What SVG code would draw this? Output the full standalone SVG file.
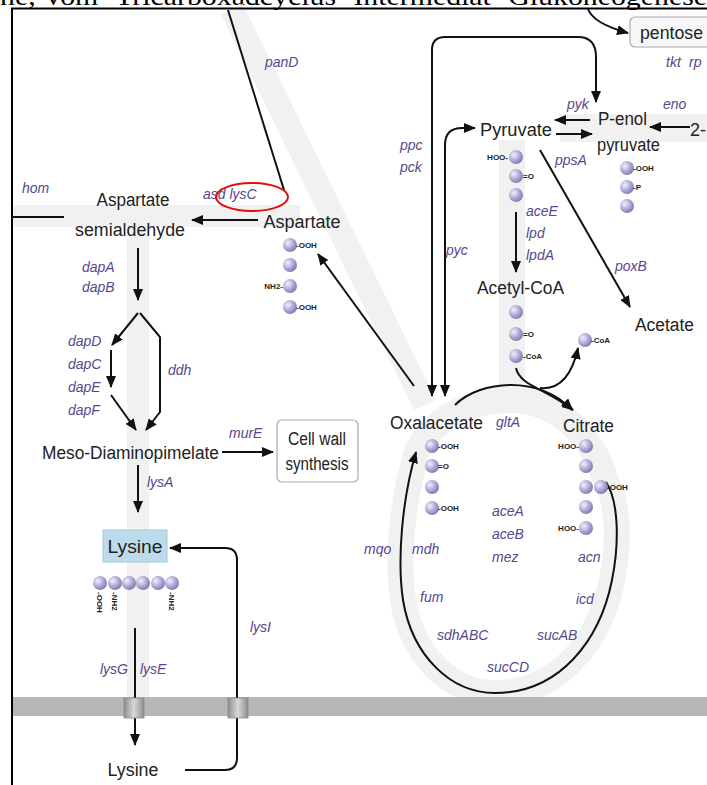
<svg xmlns="http://www.w3.org/2000/svg" width="707" height="785" viewBox="0 0 707 785">
<defs>
<marker id="ah" viewBox="0 0 12 10" refX="11" refY="5" markerWidth="12" markerHeight="10" markerUnits="userSpaceOnUse" orient="auto-start-reverse"><path d="M0,0 L12,5 L0,10 z" fill="#111"/></marker>
<radialGradient id="ball" cx="0.35" cy="0.35" r="0.7"><stop offset="0" stop-color="#f2f0ff"/><stop offset="0.6" stop-color="#aaa4d4"/><stop offset="1" stop-color="#7f78b0"/></radialGradient>
<linearGradient id="tp" x1="0" y1="0" x2="1" y2="0"><stop offset="0" stop-color="#8e8e8e"/><stop offset="0.5" stop-color="#d8d8d8"/><stop offset="1" stop-color="#8e8e8e"/></linearGradient>
</defs>
<style>
.t{font-family:"Liberation Sans",Arial,sans-serif;font-size:18px;fill:#222}
.e{font-family:"Liberation Sans",Arial,sans-serif;font-size:14px;font-style:italic;fill:#55488c}
.m{font-family:"Liberation Sans",Arial,sans-serif;font-size:8px;font-weight:bold;fill:#222}
.b{fill:url(#ball)}
.c{fill:none;stroke:#111;stroke-width:2}
.a{fill:none;stroke:#111;stroke-width:2;marker-end:url(#ah)}
.band{fill:none;stroke:#f1f1f1;stroke-linecap:butt}
</style>
<rect width="707" height="785" fill="#fff"/>
<text x="0" y="5" font-family="'Liberation Serif',serif" font-size="26" fill="#000" textLength="707" lengthAdjust="spacingAndGlyphs">ne,  Vom- Tricarboxadcyclus- Intermediat- Glukoneogenese</text>
<g id="bands">
<line class="band" x1="232" y1="9" x2="425" y2="405" stroke-width="24"/>
<line class="band" x1="12" y1="216" x2="300" y2="216" stroke-width="22"/>
<line class="band" x1="138" y1="228" x2="138" y2="697" stroke-width="22"/>
<line class="band" x1="512" y1="140" x2="512" y2="385" stroke-width="26"/>
<line class="band" x1="560" y1="128" x2="707" y2="128" stroke-width="28"/>
<path class="band" stroke-width="26" d="M606,482 C618,500 620,540 612,580 C600,640 560,693 495,693 C450,693 412,655 403,600 C397,560 402,500 417,452 C430,420 470,400 510,400 C560,400 595,440 606,482 z"/>
</g>
<rect x="12" y="697" width="695" height="19" fill="#b7b7b7"/>
<path d="M12,785 V8.5 H707" fill="none" stroke="#000" stroke-width="2"/>
<g id="connectors">
<line class="c" x1="228" y1="10" x2="284" y2="190" stroke-width="1.5"/>
<line class="a" x1="414" y1="386" x2="318" y2="254"/>
<line class="a" x1="258" y1="220" x2="192" y2="220" stroke-width="2.5"/>
<line class="c" x1="12" y1="217" x2="64" y2="217"/>
<line class="a" x1="138" y1="248" x2="138" y2="300"/>
<path class="a" d="M138,313 L112,345"/>
<path class="a" d="M140,313 L160,337 L160,412 L146,430"/>
<line class="a" x1="111" y1="350" x2="111" y2="387"/>
<line class="a" x1="111" y1="395" x2="136" y2="430"/>
<line class="a" x1="222" y1="452" x2="273" y2="452"/>
<line class="a" x1="138" y1="465" x2="138" y2="512"/>
<line class="a" x1="135" y1="628" x2="135" y2="745" stroke-width="1.5"/>
<path class="a" d="M185,770 H225 Q237,770 237,758 V560 Q237,548 225,548 H170"/>
<path class="a" d="M588,9 C592,20 606,27 628,33"/>
<path class="a" style="marker-start:url(#ah)" d="M432,396 V50 Q432,37 445,37 H578 Q596,37 596,57 V102"/>
<path class="a" style="marker-start:url(#ah)" d="M445,396 V145 Q445,128 462,128 H475"/>
<line class="a" x1="590" y1="120" x2="555" y2="120"/>
<line class="a" x1="556" y1="134" x2="592" y2="134"/>
<line class="a" x1="690" y1="127" x2="650" y2="127"/>
<line class="a" x1="540" y1="150" x2="630" y2="307"/>
<line class="a" x1="516" y1="212" x2="516" y2="272"/>
<path class="a" d="M516,368 C520,386 545,388 573,410"/>
<path class="a" d="M540,388 C560,390 572,375 578,348"/>
<path class="a" d="M455,405 C480,380 540,375 572,410"/>
<path class="a" d="M606,482 C618,500 620,540 612,580 C600,640 560,693 495,693 C450,693 412,655 403,600 C397,560 402,500 416,452"/>
<rect x="124" y="698" width="20" height="20" fill="url(#tp)" stroke="#888" stroke-width="0.8"/>
<rect x="228" y="698" width="20" height="20" fill="url(#tp)" stroke="#888" stroke-width="0.8"/>
</g>
<g id="enzymes">
<text class="e" x="265" y="67">panD</text>
<text class="e" x="22" y="193">hom</text>
<text class="e" x="203" y="199">asd lysC</text>
<text class="e" x="82" y="272">dapA</text>
<text class="e" x="82" y="292">dapB</text>
<text class="e" x="68" y="346">dapD</text>
<text class="e" x="68" y="369">dapC</text>
<text class="e" x="68" y="392">dapE</text>
<text class="e" x="68" y="415">dapF</text>
<text class="e" x="168" y="375">ddh</text>
<text class="e" x="229" y="438">murE</text>
<text class="e" x="147" y="487">lysA</text>
<text class="e" x="250" y="632">lysI</text>
<text class="e" x="100" y="674">lysG</text>
<text class="e" x="140" y="674">lysE</text>
<text class="e" x="666" y="67" font-size="12">tkt</text>
<text class="e" x="689" y="67" font-size="12">rp</text>
<text class="e" x="400" y="150">ppc</text>
<text class="e" x="400" y="172">pck</text>
<text class="e" x="567" y="109">pyk</text>
<text class="e" x="555" y="165">ppsA</text>
<text class="e" x="663" y="109">eno</text>
<text class="e" x="446" y="255">pyc</text>
<text class="e" x="526" y="216">aceE</text>
<text class="e" x="526" y="238">lpd</text>
<text class="e" x="526" y="260">lpdA</text>
<text class="e" x="615" y="271">poxB</text>
<text class="e" x="496" y="427">gltA</text>
<text class="e" x="492" y="516">aceA</text>
<text class="e" x="492" y="539">aceB</text>
<text class="e" x="492" y="562">mez</text>
<text class="e" x="364" y="554">mqo</text>
<text class="e" x="412" y="554">mdh</text>
<text class="e" x="420" y="602">fum</text>
<text class="e" x="437" y="640">sdhABC</text>
<text class="e" x="487" y="672">sucCD</text>
<text class="e" x="537" y="640">sucAB</text>
<text class="e" x="576" y="604">icd</text>
<text class="e" x="578" y="562">acn</text>
</g>
<ellipse cx="252" cy="197" rx="36" ry="14" fill="none" stroke="#e01010" stroke-width="2"/>
<g id="aspartate-semialdehyde">
<text class="t" x="133" y="206" text-anchor="middle" textLength="73" lengthAdjust="spacingAndGlyphs">Aspartate</text>
<text class="t" x="130" y="236" text-anchor="middle" textLength="110" lengthAdjust="spacingAndGlyphs">semialdehyde</text>
</g>
<g id="aspartate">
<text class="t" x="302" y="228" text-anchor="middle" textLength="77" lengthAdjust="spacingAndGlyphs">Aspartate</text>
<circle class="b" cx="290" cy="245" r="7"/><circle class="b" cx="290" cy="265" r="7"/><circle class="b" cx="290" cy="286" r="7"/><circle class="b" cx="290" cy="307" r="7"/>
<text class="m" x="296" y="248">-OOH</text><text class="m" x="283" y="289" text-anchor="end">NH2-</text><text class="m" x="296" y="310">-OOH</text>
</g>
<g id="meso-dap"><text class="t" x="42" y="459" textLength="177" lengthAdjust="spacingAndGlyphs">Meso-Diaminopimelate</text></g>
<g id="cell-wall">
<rect x="277" y="420" width="81" height="62" rx="5" fill="#fff" stroke="#aaa" stroke-width="1.2"/>
<text class="t" x="317" y="445" text-anchor="middle" font-size="15" textLength="58" lengthAdjust="spacingAndGlyphs">Cell wall</text>
<text class="t" x="317" y="470" text-anchor="middle" font-size="15" textLength="63" lengthAdjust="spacingAndGlyphs">synthesis</text>
</g>
<g id="lysine-in">
<rect x="103" y="530" width="64" height="32" fill="#bcdcec" stroke="#a4c8d8"/>
<text class="t" x="135" y="553" text-anchor="middle" textLength="55" lengthAdjust="spacingAndGlyphs">Lysine</text>
<circle class="b" cx="100" cy="583" r="7"/><circle class="b" cx="115" cy="583" r="7"/><circle class="b" cx="129" cy="583" r="7"/><circle class="b" cx="143" cy="583" r="7"/><circle class="b" cx="158" cy="583" r="7"/><circle class="b" cx="172" cy="583" r="7"/>
<text class="m" transform="translate(97,592) rotate(90)">-OOH</text>
<text class="m" transform="translate(112,592) rotate(90)">-NH2</text>
<text class="m" transform="translate(169,592) rotate(90)">-NH2</text>
</g>
<g id="lysine-out"><text class="t" x="133" y="776" text-anchor="middle" textLength="51" lengthAdjust="spacingAndGlyphs">Lysine</text></g>
<g id="pentose">
<rect x="630" y="17" width="90" height="30" rx="5" fill="#f7f7f7" stroke="#aaa" stroke-width="1.2"/>
<text class="t" x="640" y="39" textLength="63" lengthAdjust="spacingAndGlyphs">pentose</text>
</g>
<g id="pyruvate">
<text class="t" x="480" y="136" textLength="72" lengthAdjust="spacingAndGlyphs">Pyruvate</text>
<circle class="b" cx="516" cy="157" r="7"/><circle class="b" cx="516" cy="176" r="7"/><circle class="b" cx="516" cy="195" r="7"/>
<text class="m" x="508" y="160" text-anchor="end">HOO-</text><text class="m" x="523" y="179">=O</text>
</g>
<g id="pep">
<text class="t" x="598" y="125" textLength="49" lengthAdjust="spacingAndGlyphs">P-enol</text>
<text class="t" x="597" y="151" textLength="63" lengthAdjust="spacingAndGlyphs">pyruvate</text>
<circle class="b" cx="627" cy="168" r="7"/><circle class="b" cx="627" cy="187" r="7"/><circle class="b" cx="627" cy="206" r="7"/>
<text class="m" x="633" y="171">-OOH</text><text class="m" x="633" y="190">-P</text>
</g>
<g id="pga"><text class="t" x="690" y="136">2-</text></g>
<g id="acetyl-coa">
<text class="t" x="477" y="294" textLength="87" lengthAdjust="spacingAndGlyphs">Acetyl-CoA</text>
<circle class="b" cx="516" cy="312" r="7"/><circle class="b" cx="516" cy="334" r="7"/><circle class="b" cx="516" cy="356" r="7"/>
<text class="m" x="523" y="337">=O</text><text class="m" x="523" y="359">-CoA</text>
<circle class="b" cx="585" cy="340" r="7"/><text class="m" x="591" y="343">-CoA</text>
</g>
<g id="acetate"><text class="t" x="635" y="331" textLength="59" lengthAdjust="spacingAndGlyphs">Acetate</text></g>
<g id="oxalacetate">
<text class="t" x="390" y="429" textLength="93" lengthAdjust="spacingAndGlyphs">Oxalacetate</text>
<circle class="b" cx="432" cy="446" r="7"/><circle class="b" cx="432" cy="466" r="7"/><circle class="b" cx="432" cy="487" r="7"/><circle class="b" cx="432" cy="508" r="7"/>
<text class="m" x="438" y="449">-OOH</text><text class="m" x="438" y="469">=O</text><text class="m" x="438" y="511">-OOH</text>
</g>
<g id="citrate">
<text class="t" x="563" y="432" textLength="51" lengthAdjust="spacingAndGlyphs">Citrate</text>
<circle class="b" cx="586" cy="446" r="7"/><circle class="b" cx="586" cy="466" r="7"/><circle class="b" cx="586" cy="487" r="7"/><circle class="b" cx="586" cy="507" r="7"/><circle class="b" cx="586" cy="528" r="7"/><circle class="b" cx="601" cy="487" r="7"/>
<text class="m" x="579" y="449" text-anchor="end">HOO-</text><text class="m" x="607" y="490">-OOH</text><text class="m" x="579" y="531" text-anchor="end">HOO-</text>
</g>
</svg>
